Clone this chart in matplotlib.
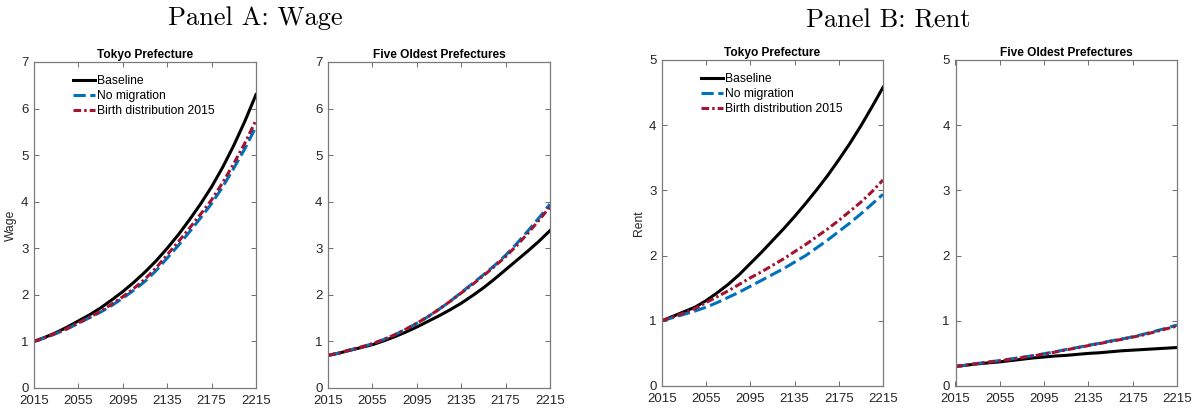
import matplotlib
matplotlib.use("Agg")
import matplotlib.pyplot as plt

plt.rcParams['font.family'] = ['Liberation Sans', 'DejaVu Sans']

years = list(range(2015, 2216, 10))
xticks = [2015, 2055, 2095, 2135, 2175, 2215]

# wage, Tokyo
wage_tokyo_base = [1.00, 1.09, 1.19, 1.31, 1.44, 1.57, 1.72, 1.89, 2.07, 2.27, 2.49,
                   2.73, 3.00, 3.29, 3.61, 3.95, 4.32, 4.74, 5.21, 5.73, 6.30]
wage_tokyo_nomig = [1.00, 1.08, 1.17, 1.27, 1.39, 1.51, 1.63, 1.77, 1.93, 2.10, 2.29,
                    2.52, 2.79, 3.06, 3.35, 3.65, 3.96, 4.32, 4.72, 5.14, 5.61]
wage_tokyo_birth = [1.00, 1.08, 1.18, 1.28, 1.40, 1.52, 1.65, 1.80, 1.96, 2.14, 2.34,
                    2.58, 2.86, 3.14, 3.43, 3.73, 4.04, 4.41, 4.82, 5.26, 5.75]

# wage, five oldest prefectures
wage_old_base = [0.70, 0.75, 0.81, 0.87, 0.93, 1.01, 1.10, 1.20, 1.31, 1.43, 1.55,
                 1.68, 1.82, 1.98, 2.15, 2.34, 2.54, 2.74, 2.94, 3.15, 3.38]
wage_old_nomig = [0.70, 0.75, 0.82, 0.88, 0.95, 1.04, 1.14, 1.26, 1.39, 1.53, 1.69,
                  1.86, 2.05, 2.24, 2.43, 2.63, 2.85, 3.10, 3.37, 3.65, 3.95]
wage_old_birth = [0.70, 0.75, 0.82, 0.88, 0.95, 1.04, 1.14, 1.26, 1.39, 1.53, 1.69,
                  1.86, 2.04, 2.22, 2.41, 2.61, 2.82, 3.06, 3.32, 3.60, 3.89]

# rent, Tokyo
rent_tokyo_base = [1.00, 1.07, 1.14, 1.21, 1.31, 1.43, 1.56, 1.71, 1.88, 2.05, 2.23,
                   2.41, 2.60, 2.80, 3.01, 3.23, 3.47, 3.72, 3.99, 4.28, 4.58]
rent_tokyo_nomig = [1.00, 1.05, 1.10, 1.15, 1.21, 1.28, 1.36, 1.44, 1.53, 1.62, 1.71,
                    1.80, 1.90, 2.00, 2.12, 2.24, 2.37, 2.50, 2.64, 2.79, 2.94]
rent_tokyo_birth = [1.00, 1.06, 1.12, 1.19, 1.28, 1.37, 1.46, 1.56, 1.66, 1.75, 1.85,
                    1.95, 2.06, 2.17, 2.29, 2.41, 2.54, 2.68, 2.82, 2.98, 3.16]

# rent, five oldest prefectures
rent_old_base = [0.30, 0.32, 0.34, 0.355, 0.37, 0.39, 0.41, 0.43, 0.445, 0.46, 0.47,
                 0.485, 0.50, 0.51, 0.525, 0.54, 0.55, 0.56, 0.57, 0.58, 0.59]
rent_old_nomig = [0.30, 0.32, 0.345, 0.37, 0.39, 0.415, 0.44, 0.465, 0.495, 0.525, 0.56,
                  0.59, 0.625, 0.655, 0.69, 0.72, 0.755, 0.795, 0.84, 0.885, 0.935]
rent_old_birth = [0.30, 0.32, 0.345, 0.365, 0.385, 0.41, 0.435, 0.46, 0.49, 0.52, 0.555,
                  0.585, 0.62, 0.65, 0.685, 0.715, 0.75, 0.785, 0.83, 0.875, 0.92]

labels = ['Baseline', 'No migration', 'Birth distribution 2015']
BLUE = '#0072BD'
RED = '#A2142F'
AXCOL = '#262626'

fig = plt.figure(figsize=(12, 4.09), dpi=100)

W, H = 1200, 409


def make_ax(left, right, top, bottom):
    return fig.add_axes([left / W, 1 - bottom / H, (right - left) / W, (bottom - top) / H])


def draw(ax, base, nomig, birth, ymax, title, ylabel=None, legend=False):
    ax.plot(years, base, color='black', lw=2.2, label=labels[0])
    ax.plot(years, nomig, color=BLUE, lw=2.2, dashes=(4, 1.5), label=labels[1])
    ax.plot(years, birth, color=RED, lw=2.2, dashes=(2.5, 1.0, 0.8, 1.0), label=labels[2])
    ax.set_xlim(2015, 2215)
    ax.set_ylim(0, ymax)
    ax.set_xticks(xticks)
    ax.set_yticks(range(0, ymax + 1))
    ax.tick_params(direction='in', length=3.5, width=0.6, top=True, right=True,
                   labelsize=9.5, labelcolor=AXCOL, color='#555555')
    ax.tick_params(axis='x', pad=5)
    ax.tick_params(axis='y', pad=4)
    for s in ax.spines.values():
        s.set_color('#7a7a7a')
        s.set_linewidth(0.9)
    ax.set_title(title, fontsize=8.6, fontweight='bold', pad=3)
    if ylabel:
        ax.set_ylabel(ylabel, fontsize=8.7, color=AXCOL, labelpad=3)
    if legend:
        ax.legend(loc='upper left', bbox_to_anchor=(0.16, 0.97), frameon=False,
                  fontsize=8.7, handlelength=1.85, handletextpad=0.1,
                  labelspacing=0.25, borderaxespad=0, borderpad=0.3)


ax1 = make_ax(34, 256, 62, 388)
ax2 = make_ax(328, 550, 62, 388)
ax3 = make_ax(662, 883, 60, 386)
ax4 = make_ax(955.5, 1177, 60, 386)

draw(ax1, wage_tokyo_base, wage_tokyo_nomig, wage_tokyo_birth, 7,
     'Tokyo Prefecture', 'Wage', legend=True)
draw(ax2, wage_old_base, wage_old_nomig, wage_old_birth, 7,
     'Five Oldest Prefectures')
draw(ax3, rent_tokyo_base, rent_tokyo_nomig, rent_tokyo_birth, 5,
     'Tokyo Prefecture', 'Rent', legend=True)
draw(ax4, rent_old_base, rent_old_nomig, rent_old_birth, 5,
     'Five Oldest Prefectures')

fig.text(255 / W, 1 - 25 / H, 'Panel A: Wage', family='cmr10', fontsize=19,
         ha='center', va='baseline')
fig.text(888 / W, 1 - 27 / H, 'Panel B: Rent', family='cmr10', fontsize=19,
         ha='center', va='baseline')

fig.savefig('out.png', dpi=100)
